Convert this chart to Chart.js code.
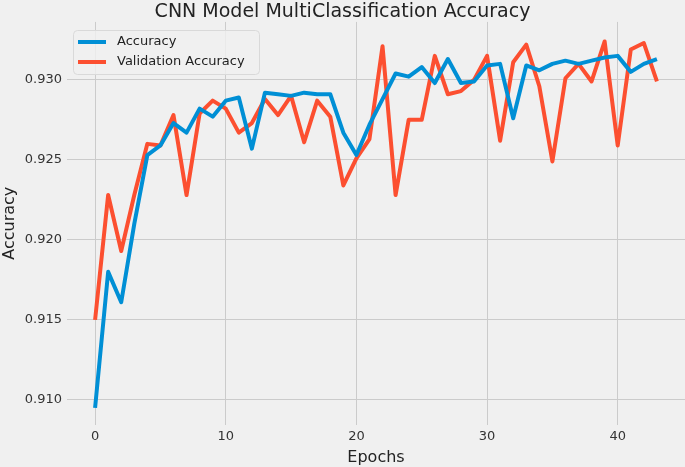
<!DOCTYPE html>
<html>
<head>
<meta charset="utf-8">
<script src="https://cdn.jsdelivr.net/npm/chart.js@4"></script>
<style>
    html, body { margin: 0; padding: 0; background: #f0f0f0; }
    #wrap { width: 685px; height: 467px; }
</style>
</head>
<body>
<div id="wrap"><canvas id="accChart" width="685" height="467"></canvas></div>
<script>
const epochs = [0, 1, 2, 3, 4, 5, 6, 7, 8, 9, 10, 11, 12, 13, 14, 15, 16, 17, 18, 19, 20, 21,
    22, 23, 24, 25, 26, 27, 28, 29, 30, 31, 32, 33, 34, 35, 36, 37, 38, 39, 40, 41, 42, 43];

const accuracy = [0.9095, 0.9180, 0.9161, 0.9210, 0.9253, 0.9259, 0.9273, 0.9267, 0.9282, 0.9277,
    0.9287, 0.9289, 0.9257, 0.9292, 0.9291, 0.9290, 0.9292, 0.9291, 0.9291, 0.9267,
    0.9253, 0.9272, 0.9288, 0.9304, 0.9302, 0.9308, 0.9298, 0.9313, 0.9298, 0.9299,
    0.9309, 0.9310, 0.9276, 0.9309, 0.9306, 0.9310, 0.9312, 0.9310, 0.9312, 0.9314,
    0.9315, 0.9305, 0.9310, 0.9313];

const valAccuracy = [0.9150, 0.9228, 0.9193, 0.9228, 0.9260, 0.9259, 0.9278, 0.9228, 0.9279, 0.9287,
    0.9282, 0.9267, 0.9273, 0.9288, 0.9278, 0.9290, 0.9261, 0.9287, 0.9277, 0.9234,
    0.9251, 0.9263, 0.9321, 0.9228, 0.9275, 0.9275, 0.9315, 0.9291, 0.9293, 0.9300,
    0.9315, 0.9262, 0.9311, 0.9322, 0.9296, 0.9249, 0.9301, 0.9310, 0.9299, 0.9324,
    0.9259, 0.9319, 0.9323, 0.9299];

const xTicks = [0, 10, 20, 30, 40];
const yTicks = [0.910, 0.915, 0.920, 0.925, 0.930];

const seriesNames = ['Accuracy', 'Validation Accuracy'];
const seriesColors = ['#008fd5', '#fc4f30'];

const FONT = 'DejaVu Sans';

// legend box drawn inside the plot, upper left
const insideLegend = {
    id: 'insideLegend',
    afterDraw(chart) {
        const ctx = chart.ctx;
        ctx.save();
        ctx.beginPath();
        ctx.roundRect(73.5, 30.5, 186, 44, 4);
        ctx.fillStyle = 'rgba(240,240,240,0.8)';
        ctx.fill();
        ctx.strokeStyle = '#d9d9d9';
        ctx.lineWidth = 1;
        ctx.stroke();
        ctx.font = '13px "' + FONT + '"';
        ctx.textBaseline = 'middle';
        seriesNames.forEach((name, i) => {
            const y = 42 + i * 20;
            ctx.strokeStyle = seriesColors[i];
            ctx.lineWidth = 4;
            ctx.beginPath();
            ctx.moveTo(78, y);
            ctx.lineTo(106, y);
            ctx.stroke();
            ctx.fillStyle = '#222';
            ctx.fillText(name, 117, y);
        });
        ctx.restore();
    }
};

const toPoints = arr => arr.map((v, i) => ({ x: epochs[i], y: v }));

const ctx = document.getElementById('accChart').getContext('2d');
const accChart = new Chart(ctx, {
    type: 'line',
    data: {
        datasets: [{
            label: seriesNames[0],
            data: toPoints(accuracy),
            borderColor: seriesColors[0],
            borderWidth: 4,
            pointRadius: 0,
            borderJoinStyle: 'round',
            tension: 0
        }, {
            label: seriesNames[1],
            data: toPoints(valAccuracy),
            borderColor: seriesColors[1],
            borderWidth: 4,
            pointRadius: 0,
            borderJoinStyle: 'round',
            tension: 0
        }]
    },
    options: {
        responsive: false,
        animation: false,
        devicePixelRatio: 1,
        layout: { padding: 0 },
        plugins: {
            legend: { display: false },
            tooltip: { enabled: false },
            title: {
                display: true,
                text: 'CNN Model MultiClassification Accuracy',
                color: '#222',
                font: { family: FONT, size: 19, weight: 'normal', lineHeight: 1.05 },
                padding: { top: 2, bottom: 0 }
            }
        },
        scales: {
            x: {
                type: 'linear',
                min: -2.15,
                max: 45.15,
                afterFit(scale) { scale.height = 42.5; },
                afterBuildTicks(scale) { scale.ticks = xTicks.map(v => ({ value: v })); },
                grid: { color: '#cbcbcb', lineWidth: 1, drawTicks: false },
                border: { display: false },
                ticks: {
                    color: '#333',
                    padding: 4,
                    font: { family: FONT, size: 13 },
                    callback: v => String(v)
                },
                title: {
                    display: true,
                    text: 'Epochs',
                    color: '#222',
                    padding: 0,
                    font: { family: FONT, size: 16 }
                }
            },
            y: {
                min: 0.90846,
                max: 0.93362,
                afterFit(scale) { scale.width = 67; },
                afterBuildTicks(scale) { scale.ticks = yTicks.map(v => ({ value: v })); },
                grid: { color: '#cbcbcb', lineWidth: 1, drawTicks: false },
                border: { display: false },
                ticks: {
                    color: '#333',
                    padding: 5,
                    font: { family: FONT, size: 13 },
                    callback: v => Number(v).toFixed(3)
                },
                title: {
                    display: true,
                    text: 'Accuracy',
                    color: '#222',
                    padding: 0,
                    font: { family: FONT, size: 16 }
                }
            }
        }
    },
    plugins: [insideLegend]
});
</script>
</body>
</html>
